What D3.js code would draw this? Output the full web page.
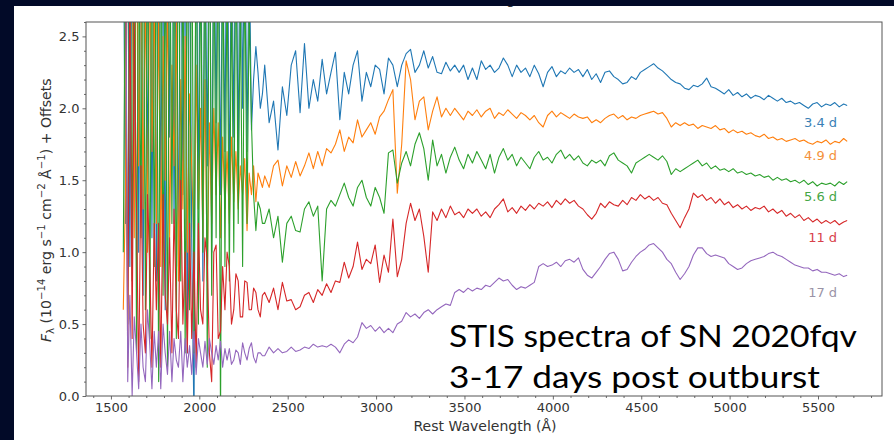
<!DOCTYPE html>
<html>
<head>
<meta charset="utf-8">
<script src="https://cdn.jsdelivr.net/npm/d3@7"></script>
<style>
body { margin: 0; background: #020a28; }
text { font-family: "DejaVu Sans", sans-serif; }
</style>
</head>
<body>
<div id="dataviz"></div>
<script>
// rest wavelength grid (Angstrom), shared by all spectra; denser in the noisy blue end
var wavelength = [
  1570,1582,1595,1607,1620,1632,1645,1657,1670,1682,1695,1707,1720,1732,1745,1757,
  1770,1782,1795,1807,1820,1832,1845,1857,1870,1882,1895,1907,1920,1932,1945,1957,
  1970,1982,1995,2007,2020,2032,2045,2057,2070,2082,2095,2107,2120,2132,2145,2157,
  2170,2182,2195,2207,2220,2232,2245,2257,2270,2282,2295,2307,2320,2332,2345,2357,
  2370,2395,2420,2445,2470,2495,2520,2545,
  2570,2595,2620,2645,2670,2695,2720,2745,
  2770,2795,2820,2845,2870,2895,2920,2945,
  2970,2995,3020,3045,3070,3095,3120,3145,
  3170,3195,3220,3245,3270,3295,3320,3345,
  3370,3395,3420,3445,3470,3495,3520,3545,
  3570,3595,3620,3645,3670,3695,3720,3745,
  3770,3795,3820,3845,3870,3895,3920,3945,
  3970,3995,4020,4045,4070,4095,4120,4145,
  4170,4195,4220,4245,4270,4295,4320,4345,
  4370,4395,4420,4445,4470,4495,4520,4545,
  4570,4595,4620,4645,4670,4695,4720,4745,
  4770,4795,4820,4845,4870,4895,4920,4945,
  4970,4995,5020,5045,5070,5095,5120,5145,
  5170,5195,5220,5245,5270,5295,5320,5345,
  5370,5395,5420,5445,5470,5495,5520,5545,
  5570,5595,5620,5645,5665
];

// flux + offset, one array per epoch
var flux34 = [
  3.5,1.2,3.8,0.9,3.6,1.6,3.9,1.0,3.7,0.7,3.4,1.5,3.8,1.1,3.6,0.8,
  3.9,1.3,3.5,0.6,3.7,1.8,4.0,1.2,3.4,0.9,3.8,1.4,3.5,0.3,3.6,1.1,
  -0.2,3.6,1.3,3.9,0.8,3.4,1.6,3.8,1.0,3.5,1.9,3.7,1.4,3.3,1.7,3.9,
  1.3,3.4,1.8,3.6,1.6,3.7,2.0,3.5,1.7,3.2,1.85,2.2,2.43,2.25,2.0,2.1,
  2.3,1.9,2.05,1.71,2.15,1.95,2.3,2.4,
  1.97,2.45,2.0,2.2,2.05,2.34,2.1,2.25,
  2.39,1.92,2.25,2.1,2.3,2.4,2.05,2.25,
  2.15,2.3,2.27,2.1,2.35,2.3,2.15,2.3,
  2.38,2.41,2.25,2.3,2.4,2.28,2.36,2.25,
  2.24,2.32,2.26,2.3,2.25,2.3,2.2,2.28,
  2.2,2.33,2.27,2.3,2.25,2.28,2.35,2.3,
  2.22,2.3,2.25,2.28,2.22,2.3,2.24,2.15,
  2.25,2.29,2.22,2.26,2.24,2.28,2.25,2.27,
  2.22,2.27,2.2,2.24,2.18,2.25,2.26,2.22,
  2.2,2.17,2.18,2.22,2.2,2.25,2.27,2.29,
  2.31,2.28,2.26,2.23,2.2,2.18,2.17,2.14,
  2.13,2.16,2.15,2.17,2.21,2.15,2.14,2.12,
  2.1,2.13,2.09,2.11,2.08,2.1,2.07,2.09,
  2.08,2.06,2.09,2.07,2.05,2.07,2.04,2.05,
  2.03,2.04,2.02,2.0,2.03,2.04,2.01,2.03,
  2.02,2.04,2.01,2.03,2.02
];
var flux49 = [
  0.6,1.4,3.6,3.4,3.2,1.1,3.5,1.6,3.3,1.3,2.9,1.0,3.1,1.7,2.8,1.2,
  2.7,0.9,2.5,1.5,2.8,1.1,2.3,1.6,2.6,0.8,2.2,1.3,2.5,1.0,2.1,1.6,
  1.0,2.3,1.3,2.0,1.1,2.2,0.8,1.9,1.2,2.0,1.4,1.9,1.1,1.8,1.3,1.7,
  1.2,1.8,1.35,1.7,1.3,1.6,1.4,1.65,1.15,1.55,1.4,1.6,1.35,1.55,1.5,1.45,
  1.53,1.45,1.6,1.64,1.46,1.6,1.52,1.63,
  1.53,1.6,1.69,1.58,1.7,1.6,1.72,1.69,
  1.75,1.85,1.7,1.8,1.76,1.92,1.8,1.85,
  1.9,1.82,1.94,1.98,2.06,2.13,1.41,1.75,
  2.33,2.2,1.92,2.05,2.08,1.85,1.98,2.08,
  1.94,2.0,1.95,2.0,1.96,1.92,1.98,1.95,
  1.99,1.94,1.98,2.0,1.93,1.97,1.95,1.99,
  1.96,1.93,1.97,1.95,1.92,1.95,1.9,1.87,
  1.95,1.98,1.94,1.97,1.95,1.93,1.96,1.94,
  1.93,1.94,1.9,1.92,1.9,1.93,1.95,1.96,
  1.93,1.95,1.92,1.94,1.93,1.95,1.96,1.97,
  1.98,1.96,1.97,1.93,1.87,1.9,1.88,1.9,
  1.88,1.89,1.86,1.88,1.87,1.86,1.88,1.85,
  1.86,1.83,1.85,1.83,1.84,1.82,1.83,1.81,
  1.8,1.82,1.79,1.8,1.78,1.79,1.77,1.78,
  1.79,1.77,1.78,1.76,1.75,1.77,1.76,1.78,
  1.75,1.77,1.76,1.79,1.77
];
var flux56 = [
  1.0,3.2,0.5,3.6,0.8,3.9,0.3,3.5,1.1,3.8,0.6,3.4,0.4,3.7,0.9,3.5,
  0.1,3.8,0.7,3.3,0.2,3.6,1.2,3.4,0.4,3.9,0.8,3.2,0.3,3.6,0.6,3.7,
  0.3,3.7,0.5,3.2,1.0,3.5,0.2,3.8,0.7,3.3,1.1,3.6,-0.2,3.4,0.9,3.0,
  0.8,2.9,1.0,3.3,1.2,2.8,0.9,3.1,1.2,2.7,1.9,1.4,1.15,1.35,1.3,1.2,
  1.2,1.3,1.1,1.25,0.93,1.2,1.25,1.15,
  1.14,1.3,1.35,1.25,1.32,0.8,1.3,1.36,
  1.32,1.4,1.48,1.38,1.32,1.45,1.5,1.38,
  1.32,1.45,1.38,1.27,1.69,1.71,1.48,1.62,
  1.7,1.6,1.75,1.83,1.72,1.5,1.78,1.6,
  1.68,1.55,1.66,1.73,1.64,1.58,1.68,1.62,
  1.7,1.64,1.58,1.68,1.55,1.66,1.72,1.64,
  1.68,1.6,1.66,1.62,1.58,1.66,1.7,1.64,
  1.66,1.62,1.68,1.71,1.65,1.68,1.64,1.67,
  1.62,1.6,1.64,1.62,1.64,1.6,1.67,1.69,
  1.64,1.62,1.6,1.55,1.62,1.64,1.66,1.68,
  1.66,1.64,1.67,1.63,1.54,1.58,1.56,1.58,
  1.6,1.62,1.64,1.6,1.62,1.58,1.6,1.57,
  1.58,1.56,1.58,1.55,1.56,1.54,1.55,1.53,
  1.54,1.52,1.53,1.5,1.52,1.5,1.51,1.49,
  1.5,1.48,1.5,1.47,1.49,1.46,1.48,1.47,
  1.48,1.46,1.49,1.47,1.49
];
var flux11 = [
  3.5,3.2,0.2,3.0,0.4,2.6,1.3,0.1,1.6,0.5,0.3,1.4,0.9,0.2,1.2,0.6,
  1.2,0.2,1.4,0.7,0.5,1.1,0.3,1.3,0.6,0.4,1.5,0.5,1.0,0.3,1.2,0.4,
  1.0,0.2,1.2,0.6,0.5,1.1,0.95,0.3,0.1,1.0,1.05,0.4,0.45,0.9,0.6,1.0,
  0.9,0.5,0.6,0.85,0.8,0.55,0.55,0.8,0.79,0.6,0.6,0.75,0.72,0.6,0.55,0.7,
  0.72,0.65,0.75,0.6,0.79,0.66,0.67,0.6,
  0.62,0.7,0.72,0.65,0.74,0.7,0.78,0.72,
  0.8,0.79,0.93,0.82,0.9,1.07,0.88,0.95,
  0.92,1.05,0.79,0.98,0.86,1.23,0.83,0.95,
  1.2,1.34,1.22,1.3,1.11,0.86,1.28,1.22,
  1.3,1.24,1.32,1.26,1.28,1.24,1.3,1.27,
  1.3,1.25,1.28,1.24,1.3,1.33,1.37,1.28,
  1.31,1.27,1.32,1.29,1.33,1.3,1.34,1.32,
  1.35,1.31,1.36,1.33,1.37,1.34,1.36,1.32,
  1.3,1.26,1.23,1.27,1.34,1.31,1.35,1.33,
  1.32,1.36,1.33,1.38,1.36,1.4,1.37,1.39,
  1.36,1.38,1.34,1.33,1.27,1.22,1.17,1.24,
  1.3,1.41,1.38,1.4,1.36,1.38,1.34,1.37,
  1.33,1.35,1.31,1.33,1.3,1.32,1.29,1.31,
  1.3,1.32,1.28,1.3,1.27,1.29,1.25,1.27,
  1.24,1.26,1.22,1.24,1.21,1.23,1.2,1.22,
  1.2,1.22,1.19,1.21,1.22
];
var flux17 = [
  3.6,3.8,0.1,0.7,0.0,0.55,0.3,0.05,0.5,0.2,0.1,0.6,0.35,0.05,0.45,0.2,
  0.45,0.05,0.5,0.3,0.15,0.45,0.1,0.4,0.25,0.2,0.45,0.1,0.4,0.2,0.35,0.15,
  0.45,0.15,0.4,0.3,0.2,0.38,0.22,0.4,0.3,0.22,0.35,0.25,0.38,0.2,0.33,0.25,
  0.33,0.22,0.25,0.32,0.3,0.22,0.37,0.3,0.25,0.33,0.37,0.27,0.23,0.3,0.3,0.28,
  0.28,0.34,0.3,0.33,0.3,0.31,0.34,0.31,
  0.32,0.34,0.33,0.36,0.34,0.35,0.34,0.36,
  0.34,0.3,0.36,0.39,0.37,0.41,0.51,0.47,
  0.49,0.45,0.48,0.44,0.47,0.44,0.5,0.52,
  0.58,0.55,0.57,0.54,0.58,0.6,0.57,0.6,
  0.62,0.64,0.63,0.72,0.74,0.72,0.75,0.73,
  0.75,0.74,0.77,0.76,0.79,0.82,0.8,0.81,
  0.77,0.74,0.76,0.75,0.77,0.79,0.9,0.92,
  0.9,0.91,0.93,0.9,0.94,0.95,0.93,0.96,
  0.88,0.84,0.82,0.86,0.9,0.95,0.99,1.0,
  0.95,0.87,0.88,0.93,0.97,1.0,1.02,1.05,
  1.06,1.03,1.0,0.95,0.92,0.86,0.81,0.85,
  0.9,0.98,1.03,1.03,0.99,0.97,0.98,0.97,
  0.96,0.92,0.9,0.88,0.89,0.92,0.94,0.95,
  0.96,0.97,0.99,1.0,0.98,0.97,0.95,0.93,
  0.91,0.9,0.89,0.89,0.87,0.88,0.86,0.86,
  0.85,0.84,0.85,0.83,0.84
];

var epochs = ['3.4 d', '4.9 d', '5.6 d', '11 d', '17 d'];
var xTicks = [1500, 2000, 2500, 3000, 3500, 4000, 4500, 5000, 5500];
var yTicks = [0.0, 0.5, 1.0, 1.5, 2.0, 2.5];

/**
 * Initial setup
 */
var margin = { top: 22, right: 12, bottom: 44, left: 86 };
var widthFull = 894;
var heightFull = 440;
var width = widthFull - margin.left - margin.right;
var height = heightFull - margin.top - margin.bottom;

var root = d3.select("#dataviz").append("svg")
    .attr("width", widthFull)
    .attr("height", heightFull);

// slide background + white figure panel
root.append("rect").attr("width", widthFull).attr("height", heightFull).attr("fill", "#020a28");
root.append("rect").attr("x", 14).attr("y", 6).attr("width", widthFull - 14).attr("height", heightFull - 6).attr("fill", "#ffffff");

// x label of the panel above, mostly hidden under the slide edge
root.append("text")
    .attr("x", margin.left + 397).attr("y", 4)
    .attr("text-anchor", "middle").attr("font-size", 14).attr("fill", "#333")
    .text("Rest Wavelength (Å)");
root.append("rect").attr("width", widthFull).attr("height", 6).attr("fill", "#020a28");

var svg = root.append("g")
    .attr("transform", "translate(" + margin.left + "," + margin.top + ")");

var x = d3.scaleLinear().domain([1359, 5862]).range([0, width]);
var y = d3.scaleLinear().domain([0, 2.6]).range([height, 0]);

svg.append("clipPath").attr("id", "plotclip")
    .append("rect").attr("width", width).attr("height", height);

var styles = [
    { name: epochs[0], flux: flux34, color: '#1f77b4', labelColor: '#3a7fb5', labelY: 1.87 },
    { name: epochs[1], flux: flux49, color: '#ff7f0e', labelColor: '#f4913a', labelY: 1.64 },
    { name: epochs[2], flux: flux56, color: '#2ca02c', labelColor: '#45a645', labelY: 1.355 },
    { name: epochs[3], flux: flux11, color: '#d62728', labelColor: '#d8424a', labelY: 1.07 },
    { name: epochs[4], flux: flux17, color: '#9467bd', labelColor: '#9a93a6', labelY: 0.69 }
];

var line = d3.line()
    .x(function(d) { return x(d[0]); })
    .y(function(d) { return y(d[1]); });

var traces = svg.append("g").attr("clip-path", "url(#plotclip)");
styles.forEach(function(s) {
    var data = wavelength.map(function(w, i) { return [w, s.flux[i]]; });
    traces.append("path")
        .datum(data)
        .attr("fill", "none")
        .attr("stroke", s.color)
        .attr("stroke-width", 1.1)
        .attr("stroke-linejoin", "round")
        .attr("d", line);
});

// epoch labels at the red end
svg.selectAll(".epoch").data(styles).enter().append("text")
    .attr("class", "epoch")
    .attr("x", x(5608))
    .attr("y", function(d) { return y(d.labelY); })
    .attr("text-anchor", "end")
    .attr("font-size", 13)
    .attr("fill", function(d) { return d.labelColor; })
    .text(function(d) { return d.name; });

// axes: major + minor ticks
var xMinor = d3.range(1400, 5900, 100).filter(function(v) { return v % 500 !== 0; });
var yMinor = d3.range(0, 27).map(function(i) { return i / 10; }).filter(function(v) { return Math.abs(v * 2 - Math.round(v * 2)) > 1e-6; });

svg.append("g").attr("class", "x-axis")
    .attr("transform", "translate(0," + height + ")")
    .call(d3.axisBottom(x).tickValues(xTicks).tickSize(3.5).tickPadding(3).tickFormat(d3.format("d")));
svg.append("g").attr("class", "x-minor")
    .attr("transform", "translate(0," + height + ")")
    .call(d3.axisBottom(x).tickValues(xMinor).tickSize(2).tickFormat(""));
svg.append("g").attr("class", "y-axis")
    .call(d3.axisLeft(y).tickValues(yTicks).tickSize(3.5).tickPadding(3).tickFormat(d3.format(".1f")));
svg.append("g").attr("class", "y-minor")
    .call(d3.axisLeft(y).tickValues(yMinor).tickSize(2).tickFormat(""));

svg.selectAll(".domain").remove();
svg.selectAll(".tick line").attr("stroke", "#444").attr("stroke-width", 0.8);
svg.selectAll(".tick text")
    .attr("font-family", "DejaVu Sans, sans-serif")
    .attr("font-size", 13)
    .attr("fill", "#333");

svg.append("rect")
    .attr("width", width).attr("height", height)
    .attr("fill", "none").attr("stroke", "#555").attr("stroke-width", 1);

// axis titles
svg.append("text")
    .attr("x", width / 2 + 1).attr("y", height + 35)
    .attr("text-anchor", "middle").attr("font-size", 14).attr("fill", "#333")
    .text("Rest Wavelength (Å)");

var yl = svg.append("text")
    .attr("font-size", 12.5).attr("fill", "#333");
yl.append("tspan").attr("font-style", "italic").text("F");
yl.append("tspan").attr("font-size", 9).attr("dy", 3).text("λ");
yl.append("tspan").attr("dy", -3).text(" (10");
var parts = [["−14", " erg s"], ["−1", " cm"], ["−2", " Å"], ["−1", ") + Offsets"]];
parts.forEach(function(p) {
    yl.append("tspan").attr("font-size", 9).attr("dy", -5).text(p[0]);
    yl.append("tspan").attr("dy", 5).text(p[1]);
});
// fit the rotated label to its span along the axis (about 264 px, centred at y = 210)
var bb = yl.node().getBBox();
var k = 264 / bb.width;
yl.attr("transform",
    "translate(" + (-40) + "," + (210 - margin.top) + ") rotate(-90) scale(" + k + ") " +
    "translate(" + (-(bb.x + bb.width / 2)) + "," + (-(bb.y + bb.height / 2)) + ")");

// slide annotation
var note = root.append("g").attr("fill", "#000");
note.append("text").attr("x", 449).attr("y", 347).attr("font-size", 31)
    .attr("textLength", 408).attr("lengthAdjust", "spacingAndGlyphs")
    .style("font-family", "Lato, 'Open Sans', sans-serif")
    .text("STIS spectra of SN 2020fqv");
note.append("text").attr("x", 449).attr("y", 388).attr("font-size", 31)
    .attr("textLength", 371).attr("lengthAdjust", "spacingAndGlyphs")
    .style("font-family", "Lato, 'Open Sans', sans-serif")
    .text("3-17 days post outburst");
</script>
</body>
</html>
